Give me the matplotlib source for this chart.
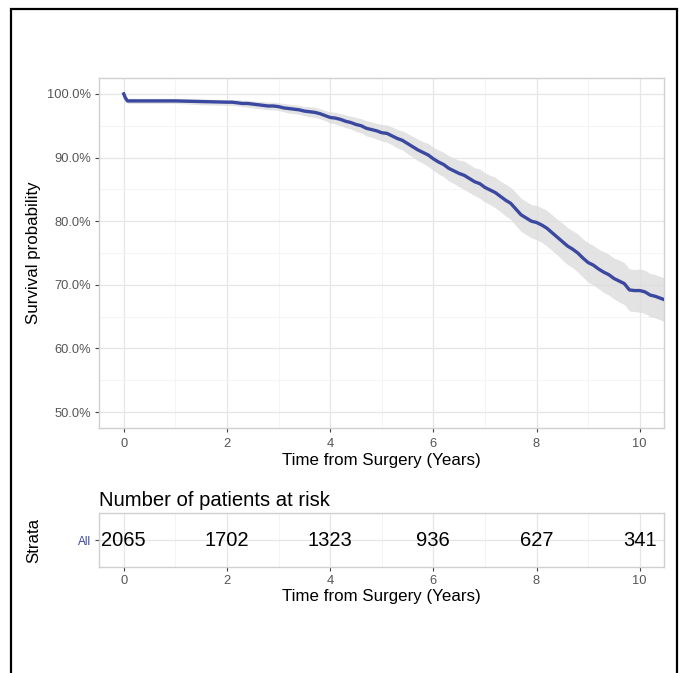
import matplotlib
matplotlib.use("Agg")
import matplotlib.pyplot as plt
from matplotlib.patches import Rectangle

plt.rcParams['font.family'] = ['Liberation Sans', 'DejaVu Sans']

# Kaplan-Meier estimate (years, percent)
times = [0.0, 0.03, 0.07, 0.5, 1.0, 1.5,
         2.0, 2.1, 2.2, 2.3, 2.4, 2.5, 2.6, 2.7, 2.8, 2.9,
         3.0, 3.1, 3.2, 3.3, 3.4, 3.5, 3.6, 3.7, 3.8, 3.9,
         4.0, 4.1, 4.2, 4.3, 4.4, 4.5, 4.6, 4.7, 4.8, 4.9,
         5.0, 5.1, 5.2, 5.3, 5.4, 5.5, 5.6, 5.7, 5.8, 5.9,
         6.0, 6.1, 6.2, 6.3, 6.4, 6.5, 6.6, 6.7, 6.8, 6.9,
         7.0, 7.1, 7.2, 7.3, 7.4, 7.5, 7.6, 7.7, 7.8, 7.9,
         8.0, 8.1, 8.2, 8.3, 8.4, 8.5, 8.6, 8.7, 8.8, 8.9,
         9.0, 9.1, 9.2, 9.3, 9.4, 9.5, 9.6, 9.7, 9.8, 9.9,
         10.0, 10.1, 10.2, 10.3, 10.4, 10.5]
surv = [100.0, 99.4, 98.9, 98.9, 98.9, 98.8,
        98.7, 98.7, 98.6, 98.5, 98.5, 98.4, 98.3, 98.2, 98.1, 98.1,
        98.0, 97.8, 97.7, 97.6, 97.5, 97.3, 97.2, 97.1, 96.9, 96.6,
        96.3, 96.2, 96.0, 95.7, 95.5, 95.2, 95.0, 94.6, 94.4, 94.2,
        93.9, 93.8, 93.4, 93.0, 92.7, 92.2, 91.7, 91.2, 90.8, 90.4,
        89.8, 89.3, 88.9, 88.3, 87.9, 87.5, 87.2, 86.7, 86.2, 85.9,
        85.3, 84.9, 84.5, 83.9, 83.3, 82.8, 81.9, 81.0, 80.5, 80.0,
        79.8, 79.4, 78.9, 78.2, 77.5, 76.8, 76.1, 75.6, 75.0, 74.2,
        73.5, 73.1, 72.5, 72.0, 71.6, 71.0, 70.6, 70.2, 69.2, 69.1,
        69.1, 68.9, 68.4, 68.2, 67.9, 67.6]
lower = [100.0, 99.1, 98.5, 98.5, 98.5, 98.3,
         98.2, 98.2, 98.1, 98.0, 97.9, 97.8, 97.7, 97.6, 97.5, 97.5,
         97.4, 97.2, 97.0, 96.9, 96.8, 96.6, 96.4, 96.3, 96.1, 95.8,
         95.4, 95.3, 95.0, 94.7, 94.5, 94.1, 93.9, 93.4, 93.2, 92.9,
         92.6, 92.4, 92.0, 91.5, 91.2, 90.6, 90.1, 89.5, 89.1, 88.6,
         88.0, 87.4, 87.0, 86.3, 85.9, 85.4, 85.0, 84.5, 84.0, 83.6,
         83.0, 82.6, 82.1, 81.5, 80.8, 80.3, 79.3, 78.4, 77.9, 77.4,
         77.1, 76.7, 76.1, 75.4, 74.7, 73.9, 73.2, 72.7, 72.0, 71.2,
         70.4, 70.0, 69.4, 68.8, 68.4, 67.8, 67.3, 66.9, 65.9, 65.8,
         65.7, 65.5, 65.0, 64.8, 64.5, 64.1]
upper = [100.0, 99.7, 99.3, 99.3, 99.3, 99.2,
         99.1, 99.1, 99.1, 99.0, 99.0, 98.9, 98.8, 98.8, 98.7, 98.7,
         98.6, 98.5, 98.4, 98.3, 98.2, 98.0, 98.0, 97.9, 97.7, 97.4,
         97.2, 97.1, 96.9, 96.7, 96.5, 96.3, 96.1, 95.8, 95.6, 95.4,
         95.2, 95.1, 94.8, 94.4, 94.2, 93.8, 93.3, 92.9, 92.5, 92.2,
         91.6, 91.2, 90.8, 90.3, 89.9, 89.6, 89.4, 88.9, 88.4, 88.2,
         87.6, 87.2, 86.9, 86.3, 85.8, 85.3, 84.5, 83.6, 83.1, 82.6,
         82.5, 82.1, 81.7, 81.0, 80.3, 79.7, 79.0, 78.5, 78.0, 77.2,
         76.6, 76.2, 75.6, 75.2, 74.8, 74.2, 73.9, 73.5, 72.5, 72.4,
         72.5, 72.3, 71.8, 71.6, 71.3, 71.1]

# risk table
risk_times = [0, 2, 4, 6, 8, 10]
n_at_risk = [2065, 1702, 1323, 936, 627, 341]
strata = ["All"]

y_ticks = [50, 60, 70, 80, 90, 100]
x_ticks = [0, 2, 4, 6, 8, 10]

line_col = "#3a48a0"
grid_major = "#e6e6e6"
grid_minor = "#f2f2f2"
border_col = "#d0d0d0"
tick_col = "#555555"

fig = plt.figure(figsize=(6.79, 6.73), dpi=100)


def style_panel(ax):
    ax.set_xlim(-0.48, 10.47)
    ax.set_xticks(x_ticks)
    ax.set_xticks([1, 3, 5, 7, 9], minor=True)
    ax.grid(True, which='major', color=grid_major, lw=0.9)
    ax.grid(True, which='minor', color=grid_minor, lw=0.6)
    ax.set_axisbelow(True)
    for s in ax.spines.values():
        s.set_color(border_col)
        s.set_linewidth(1.0)
    ax.tick_params(which='major', length=3, color='#444444', labelsize=9.3,
                   labelcolor=tick_col, pad=3)
    ax.tick_params(which='minor', length=0)


# main survival panel
ax = fig.add_axes([0.1458, 0.3640, 0.8321, 0.5201])
ax.fill_between(times, lower, upper, color='#dcdcdc', alpha=0.8,
                lw=0, zorder=2)
ax.plot(times, surv, color=line_col, lw=2.4, zorder=3,
        solid_joinstyle='round')
style_panel(ax)
ax.set_ylim(47.5, 102.5)
ax.set_yticks(y_ticks)
ax.set_yticks([55, 65, 75, 85, 95], minor=True)
ax.set_yticklabels([f"{v:.1f}%" for v in y_ticks])
ax.tick_params(axis='x', pad=4)
ax.set_xlabel("Time from Surgery (Years)", fontsize=12.2, labelpad=2)
ax.set_ylabel("Survival probability", fontsize=12.2)
ax.yaxis.set_label_coords(-0.103, 0.5)

# risk table panel
tb = fig.add_axes([0.1458, 0.1575, 0.8321, 0.0802])
style_panel(tb)
tb.set_ylim(0.5, 1.5)
tb.set_yticks([1])
tb.set_yticklabels(strata)
tb.tick_params(axis='y', labelsize=8.5, labelcolor=line_col, length=3)
tb.grid(True, axis='y', which='major', color=grid_major, lw=0.9)
for t, n in zip(risk_times, n_at_risk):
    tb.text(t, 1, str(n), ha='center', va='center', fontsize=14.5,
            color='black')
tb.set_xlabel("Time from Surgery (Years)", fontsize=12.2, labelpad=1)
tb.set_ylabel("Strata", fontsize=12.2)
tb.yaxis.set_label_coords(-0.103, 0.5)
tb.set_title("Number of patients at risk", loc='left', fontsize=14.6, pad=5)

# outer frame (open at the bottom)
fig.patches.append(Rectangle((11 / 679, -0.05), 666 / 679, 1.05 - 9 / 673,
                             transform=fig.transFigure, fill=False,
                             edgecolor='black', lw=1.6))

fig.savefig("out.png", dpi=100)
